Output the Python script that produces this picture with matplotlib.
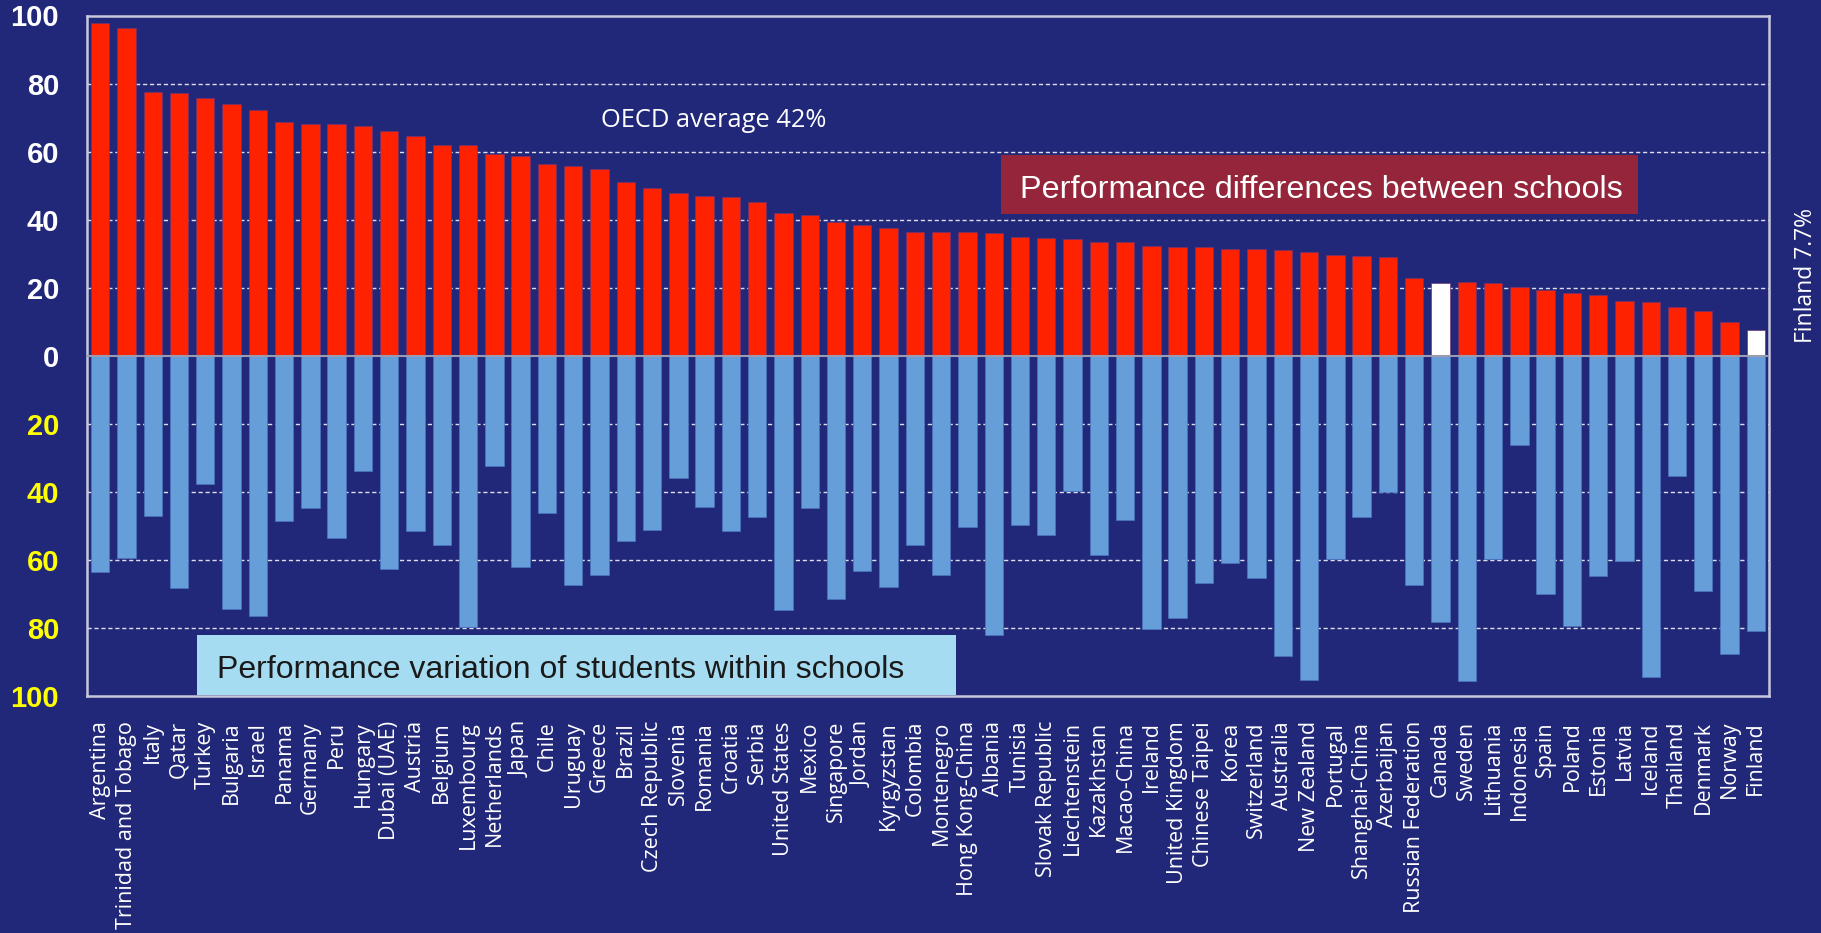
import numpy as np
import matplotlib
matplotlib.use("Agg")
import matplotlib.pyplot as plt
from matplotlib.patches import Rectangle

# countries, ordered as in the chart
countries = ["Argentina", "Trinidad and Tobago", "Italy", "Qatar", "Turkey", "Bulgaria",
             "Israel", "Panama", "Germany", "Peru", "Hungary", "Dubai (UAE)", "Austria",
             "Belgium", "Luxembourg", "Netherlands", "Japan", "Chile", "Uruguay", "Greece",
             "Brazil", "Czech Republic", "Slovenia", "Romania", "Croatia", "Serbia",
             "United States", "Mexico", "Singapore", "Jordan", "Kyrgyzstan", "Colombia",
             "Montenegro", "Hong Kong-China", "Albania", "Tunisia", "Slovak Republic",
             "Liechtenstein", "Kazakhstan", "Macao-China", "Ireland", "United Kingdom",
             "Chinese Taipei", "Korea", "Switzerland", "Australia", "New Zealand", "Portugal",
             "Shanghai-China", "Azerbaijan", "Russian Federation", "Canada", "Sweden",
             "Lithuania", "Indonesia", "Spain", "Poland", "Estonia", "Latvia", "Iceland",
             "Thailand", "Denmark", "Norway", "Finland"]

# variance between schools (upper, red)
between = [97.9, 96.4, 77.6, 77.1, 75.7, 74.1, 72.3, 68.8, 68.2, 68.2, 67.6, 66.2, 64.7,
           61.8, 61.8, 59.2, 58.8, 56.4, 55.7, 54.9, 51.2, 49.4, 47.8, 47.0, 46.6, 45.1,
           42.1, 41.3, 39.2, 38.3, 37.6, 36.5, 36.5, 36.5, 36.0, 35.0, 34.6, 34.2, 33.5,
           33.5, 32.3, 31.9, 31.9, 31.5, 31.5, 31.1, 30.4, 29.7, 29.4, 28.9, 22.9, 21.5,
           21.7, 21.3, 20.3, 19.4, 18.4, 17.9, 16.2, 15.8, 14.4, 13.2, 10.0, 7.7]

# variance within schools (lower, blue)
within = [63.6, 59.4, 47.0, 68.2, 37.7, 74.5, 76.4, 48.7, 44.7, 53.5, 33.8, 62.8, 51.6,
          55.7, 79.8, 32.3, 62.2, 46.3, 67.5, 64.3, 54.3, 51.2, 35.8, 44.4, 51.6, 47.4,
          74.8, 44.7, 71.6, 63.3, 68.0, 55.6, 64.3, 50.3, 82.1, 49.6, 52.7, 39.8, 58.6,
          48.2, 80.3, 77.1, 66.9, 61.0, 65.2, 88.1, 95.2, 59.7, 47.4, 39.9, 67.5, 78.3,
          95.6, 59.7, 26.3, 70.0, 79.4, 64.8, 60.2, 94.5, 35.4, 69.2, 87.7, 81.0]

highlight = ["Canada", "Finland"]

ytick_vals = [-100, -80, -60, -40, -20, 0, 20, 40, 60, 80, 100]

bg = "#21287A"
red = "#FF2200"
blue = "#669ED9"
frame = "#C8C8DC"

fig = plt.figure(figsize=(18.21, 9.33), dpi=100, facecolor=bg)
W, H = 1821, 933
ax = fig.add_axes([87 / W, 1 - 696 / H, (1769 - 87) / W, (696 - 15.5) / H])
ax.set_facecolor(bg)

x = np.arange(len(countries))
top_colors = ["white" if c in highlight else red for c in countries]
ax.bar(x, between, width=0.7, color=top_colors, edgecolor=(0.45, 0.2, 0.45, 0.8),
       linewidth=0.6, zorder=3)
ax.bar(x, -np.array(within), width=0.7, color=blue, edgecolor=(0.3, 0.45, 0.75, 0.9),
       linewidth=0.6, zorder=3)

ax.set_xlim(-0.5, len(countries) - 0.5)
ax.set_ylim(-100, 100)

# grid
for v in ytick_vals:
    if v in (-100, 0, 100):
        continue
    ax.axhline(v, color="white", lw=1.0, ls=(0, (3, 2)), alpha=0.85, zorder=1)
ax.axhline(0, color="#9A9AB0", lw=1.5, zorder=4)

for s in ax.spines.values():
    s.set_color(frame)
    s.set_linewidth(1.8)

ax.set_yticks(ytick_vals)
ax.set_yticklabels([str(abs(v)) for v in ytick_vals])
for lbl, v in zip(ax.get_yticklabels(), ytick_vals):
    lbl.set_color("#FFFF00" if v < 0 else "white")
    lbl.set_fontfamily("Liberation Sans")
    lbl.set_fontweight("bold")
    lbl.set_fontsize(21)
ax.tick_params(axis="y", length=0, pad=20)

ax.set_xticks(x)
ax.set_xticklabels(countries, rotation=90, fontsize=15.5, color="white",
                   fontfamily="Open Sans")
ax.tick_params(axis="x", length=0, pad=18)

# annotations
ax.text(19.06, 67.3, "OECD average 42%", color="white", fontsize=18.4,
        fontfamily="Open Sans", va="baseline", ha="left", zorder=5)

ax.add_patch(Rectangle((34.28, 41.8), 58.5 - 34.28, 59.0 - 41.8, facecolor="#94253A",
                       edgecolor="none", zorder=5))
ax.text(35.0, 46.4, "Performance differences between schools", color="white",
        fontsize=23.3, fontfamily="Liberation Sans", va="baseline", ha="left", zorder=6)

ax.add_patch(Rectangle((3.69, -99.6), 32.57 - 3.69, 99.6 - 82.2, facecolor="#A6DCF2",
                       edgecolor="none", zorder=5))
ax.text(4.43, -94.6, "Performance variation of students within schools", color="#1A1A1A",
        fontsize=23, fontfamily="Liberation Sans", va="baseline", ha="left", zorder=6)

fig.text(1806 / W, 1 - 275.5 / H, "Finland 7.7%", color="white", fontsize=16.5,
         fontfamily="Open Sans", rotation=90, ha="center", va="center")

fig.savefig("out.png", dpi=100, facecolor=bg)
